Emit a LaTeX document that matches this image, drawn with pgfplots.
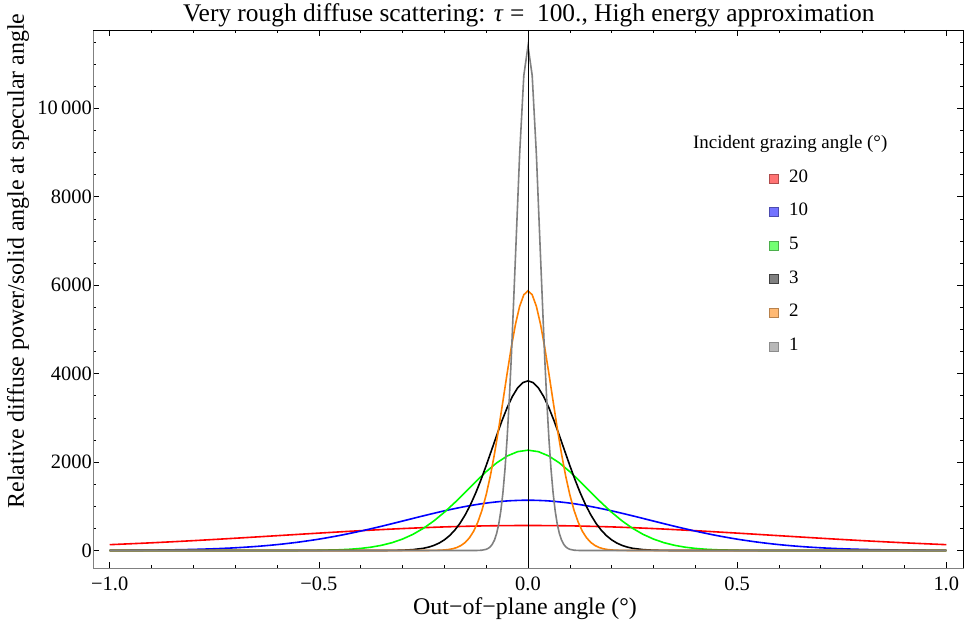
\documentclass[border=0pt]{standalone}
\usepackage{fontspec}
\setmainfont{Liberation Serif}
\usepackage{pgfplots}
\pgfplotsset{compat=1.18}
\definecolor{mred}{rgb}{1,0,0}
\definecolor{mblue}{rgb}{0,0,1}
\definecolor{mgreen}{rgb}{0,1,0}
\definecolor{morange}{rgb}{1,0.5,0}
\definecolor{mgray}{rgb}{0.5,0.5,0.5}
\newcommand{\sq}[2]{\draw[draw=#1, fill=#2, line width=0.7bp] (0bp,-4.5bp) rectangle (9bp,4.5bp); \path[draw=none, fill=none] (19bp,0bp) circle (0pt);}
\begin{document}
\begin{tikzpicture}
\useasboundingbox (0,0) rectangle (964bp,630bp);
\begin{axis}[
  at={(93bp,62bp)}, anchor=south west,
  scale only axis, width=870bp, height=538bp,
  xmin=-1.04, xmax=1.04, ymin=-395, ymax=11770,
  xtick={-1,-0.5,0,0.5,1},
  xticklabels={−1.0,−0.5,0.0,0.5,1.0},
  minor xtick={-0.9,-0.8,-0.7,-0.6,-0.4,-0.3,-0.2,-0.1,0.1,0.2,0.3,0.4,0.6,0.7,0.8,0.9},
  ytick={0,2000,4000,6000,8000,10000},
  yticklabels={0,2000,4000,6000,8000,10\,000},
  minor ytick={500,1000,1500,2500,3000,3500,4500,5000,5500,6500,7000,7500,8500,9000,9500,10500,11000,11500},
  scaled y ticks=false,
  tick align=inside,
  major tick length=6bp, minor tick length=3.5bp,
  tick style={black, line width=0.6bp},
  axis line style={gray, line width=0.8bp},
  ticklabel style={font=\fontsize{20.5}{20.5}\selectfont},
  xticklabel style={inner sep=2bp, yshift=-7bp},
  yticklabel style={inner sep=1bp},
  xlabel={Out−of−plane angle (°)},
  ylabel={Relative diffuse power/solid angle at specular angle},
  label style={font=\fontsize{24}{24}\selectfont},
  xlabel style={at={(axis description cs:0.4966,-0.0762)}, anchor=center},
  ylabel style={at={(axis description cs:-0.0862,0.5706)}, anchor=center, rotate=0},
  title={Very rough diffuse scattering: \textit{τ} =\ \ 100., High energy approximation},
  title style={at={(axis description cs:0.501,1.0167)}, anchor=center, font=\fontsize{25.5}{25.5}\selectfont},
  legend style={at={(axis cs:0.575,8600)}, anchor=north west, draw=none, fill=none,
    font=\fontsize{19}{19}\selectfont, row sep=17.6bp, inner sep=0pt,
    nodes={font=\fontsize{19}{19}\selectfont, text height=11bp, text depth=3bp, inner sep=1bp}},
  legend cell align=left,
  clip=false,
]
\addplot[mred, line width=1.6bp, smooth, legend image code/.code={\sq{red!55!black!70}{mred!55}}] coordinates {
(-1,132.6)(-0.9,174.7)(-0.8,223.6)(-0.7,278.0)(-0.6,335.7)(-0.5,393.8)(-0.4,448.7)(-0.3,496.7)(-0.2,534.1)(-0.1,557.9)(0,566)
(0.1,557.9)(0.2,534.1)(0.3,496.7)(0.4,448.7)(0.5,393.8)(0.6,335.7)(0.7,278.0)(0.8,223.6)(0.9,174.7)(1,132.6)};
\addlegendentry{20}
\addplot[mblue, line width=1.6bp, smooth, legend image code/.code={\sq{blue!55!black!70}{mblue!55}}] coordinates {
(-1,3.0)(-0.95,5.3)(-0.9,9.2)(-0.85,15.5)(-0.8,25.3)(-0.75,40.2)(-0.7,61.8)(-0.65,92.3)(-0.6,133.8)(-0.55,188.5)(-0.5,257.4)
(-0.45,341.4)(-0.4,439.6)(-0.35,549.3)(-0.3,666.4)(-0.25,784.8)(-0.2,897.2)(-0.15,995.5)(-0.1,1072.3)(-0.05,1121.2)(0,1138)
(0.05,1121.2)(0.1,1072.3)(0.15,995.5)(0.2,897.2)(0.25,784.8)(0.3,666.4)(0.35,549.3)(0.4,439.6)(0.45,341.4)(0.5,257.4)
(0.55,188.5)(0.6,133.8)(0.65,92.3)(0.7,61.8)(0.75,40.2)(0.8,25.3)(0.85,15.5)(0.9,9.2)(0.95,5.3)(1,3.0)};
\addlegendentry{10}
\addplot[mgreen, line width=1.6bp, legend image code/.code={\sq{green!55!black!70}{mgreen!55}}] coordinates {
(-1,0)(-0.7,0)(-0.6,0.4)(-0.55,1.8)(-0.5,5.5)(-0.45,17.2)(-0.425,29.0)(-0.4,47.9)(-0.375,76.5)(-0.35,118.4)(-0.325,177.7)(-0.3,259.1)
(-0.275,366.4)(-0.25,502.8)(-0.225,669.6)(-0.2,865.0)(-0.175,1084.4)(-0.15,1319.0)(-0.125,1556.8)(-0.1,1783.0)
(-0.075,1981.3)(-0.05,2136.3)(-0.025,2235.1)(0,2269)
(0.025,2235.1)(0.05,2136.3)(0.075,1981.3)(0.1,1783.0)(0.125,1556.8)(0.15,1319.0)(0.175,1084.4)(0.2,865.0)
(0.225,669.6)(0.25,502.8)(0.275,366.4)(0.3,259.1)(0.325,177.7)(0.35,118.4)(0.375,76.5)(0.4,47.9)(0.425,29.0)(0.45,17.2)
(0.5,5.5)(0.55,1.8)(0.6,0.4)(0.7,0)(1,0)};
\addlegendentry{5}
\addplot[black, line width=1.6bp, legend image code/.code={\sq{black!75}{black!50}}] coordinates {
(-1,0)(-0.45,0)(-0.4,0.1)(-0.35,0.8)(-0.325,2.6)(-0.3,7.6)(-0.275,20.5)(-0.25,50.8)(-0.2375,77.6)(-0.225,115.5)(-0.2125,168.6)(-0.2,240.9)
(-0.1875,336.9)(-0.175,460.9)(-0.1625,617.2)(-0.15,808.8)(-0.1375,1037.0)(-0.125,1301.4)(-0.1125,1598.2)(-0.1,1920.7)
(-0.0875,2258.9)(-0.075,2599.9)(-0.0625,2928.2)(-0.05,3227.5)(-0.0375,3481.2)(-0.025,3674.6)(-0.0125,3795.7)(0,3837)
(0.0125,3795.7)(0.025,3674.6)(0.0375,3481.2)(0.05,3227.5)(0.0625,2928.2)(0.075,2599.9)(0.0875,2258.9)(0.1,1920.7)
(0.1125,1598.2)(0.125,1301.4)(0.1375,1037.0)(0.15,808.8)(0.1625,617.2)(0.175,460.9)(0.1875,336.9)(0.2,240.9)
(0.2125,168.6)(0.225,115.5)(0.2375,77.6)(0.25,50.8)(0.275,20.5)(0.3,7.6)(0.325,2.6)(0.35,0.8)(0.4,0.1)(0.45,0)(1,0)};
\addlegendentry{3}
\addplot[morange, line width=1.6bp, legend image code/.code={\sq{orange!60!black!70}{morange!55}}] coordinates {
(-1,0)(-0.3,0)(-0.25,0.4)(-0.22,3.4)(-0.2,12.5)(-0.19,22.6)(-0.18,40.1)(-0.17,68.7)(-0.16,114.2)(-0.15,184.1)(-0.14,287.6)(-0.13,435.7)
(-0.12,640.4)(-0.11,912.3)(-0.1,1260.3)(-0.09,1688.4)(-0.08,2193.3)(-0.07,2762.8)(-0.06,3375.0)(-0.05,3997.3)
(-0.04,4591.2)(-0.03,5113.3)(-0.02,5522.4)(-0.01,5783.3)(0,5873)
(0.01,5783.3)(0.02,5522.4)(0.03,5113.3)(0.04,4591.2)(0.05,3997.3)(0.06,3375.0)(0.07,2762.8)(0.08,2193.3)
(0.09,1688.4)(0.1,1260.3)(0.11,912.3)(0.12,640.4)(0.13,435.7)(0.14,287.6)(0.15,184.1)(0.16,114.2)(0.17,68.7)
(0.18,40.1)(0.19,22.6)(0.2,12.5)(0.22,3.4)(0.25,0.4)(0.3,0)(1,0)};
\addlegendentry{2}
\addplot[mgray, line width=1.6bp, legend image code/.code={\sq{black!45}{black!28}}] coordinates {
(-1,0)(-0.16,0)(-0.14,0.2)(-0.12,1.9)(-0.11,7.7)(-0.1,27.5)(-0.095,49.5)(-0.09,86.5)(-0.085,146.5)(-0.08,240.8)(-0.075,384.3)
(-0.07,595.0)(-0.065,893.8)(-0.06,1302.7)(-0.055,1842.3)(-0.05,2527.7)(-0.045,3366.2)(-0.04,4349.0)(-0.03,6631.8)
(-0.02,8964.9)(-0.01,10741.6)(0,11409)
(0.01,10741.6)(0.02,8964.9)(0.03,6631.8)(0.04,4349.0)(0.045,3366.2)(0.05,2527.7)(0.055,1842.3)(0.06,1302.7)
(0.065,893.8)(0.07,595.0)(0.075,384.3)(0.08,240.8)(0.085,146.5)(0.09,86.5)(0.095,49.5)(0.1,27.5)(0.11,7.7)
(0.12,1.9)(0.14,0.2)(0.16,0)(1,0)};
\addlegendentry{1}
\draw[black, line width=0.7bp] (axis cs:0,-395) -- (axis cs:0,11770);
\draw[black, line width=0.8bp] (rel axis cs:0,1) -- (rel axis cs:1,1) -- (rel axis cs:1,0);
\node[font=\fontsize{19}{19}\selectfont, anchor=center] at (axis cs:0.627,9192) {Incident grazing angle (°)};
\end{axis}
\end{tikzpicture}
\end{document}
